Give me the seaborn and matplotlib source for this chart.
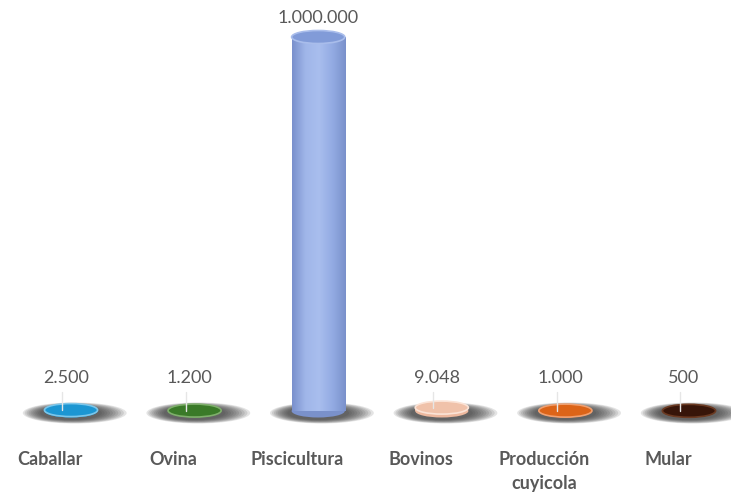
import numpy as np
import pandas as pd
import matplotlib
matplotlib.use("Agg")
import matplotlib.pyplot as plt
import seaborn as sns
from matplotlib.patches import Ellipse
from matplotlib.colors import LinearSegmentedColormap

# Data
categories = ["Caballar", "Ovina", "Piscicultura", "Bovinos", "Producción\ncuyicola", "Mular"]
values = [2500, 1200, 1000000, 9048, 1000, 500]
value_labels = ["2.500", "1.200", "1.000.000", "9.048", "1.000", "500"]
bar_colors = ["#1E9BD7", "#3F7F2C", "#8DA6E0", "#EDB89E", "#E0691F", "#3E1A0C"]
cap_colors = ["#1C96D2", "#3A7A28", "#819BD8", "#F0C2AA", "#DC6418", "#371509"]
cap_edges = ["#7CC6EA", "#7FAF6C", "#A9BDEB", "#FBE3D6", "#F0A070", "#6B3A22"]

df = pd.DataFrame({"categoria": categories, "valor": values})

sns.set_style("white")
plt.rcParams["font.family"] = ["Lato", "DejaVu Sans"]

fig = plt.figure(figsize=(7.31, 4.92), dpi=100)
ax = fig.add_axes([0, 52 / 492, 1, 440 / 492])

sns.barplot(data=df, x="categoria", y="valor", hue="categoria", palette=bar_colors,
            width=0.43, saturation=1, legend=False, ax=ax, zorder=3, linewidth=0)

ax.set_xlim(-0.4045, 5.51)
ax.set_ylim(-77540, 1098930)

# pixel -> data helpers
px_y = 1e6 / 374
shift = 0.17
bars = list(ax.patches)
for p in bars:
    p.set_x(p.get_x() + shift)

# cylinder shading on the bars
cmap = LinearSegmentedColormap.from_list("cyl", ["#7990CC", "#A0B6E9", "#A9BEEE", "#93ABE3", "#7A91CB"])
grad = np.linspace(0, 1, 256).reshape(1, -1)
for p, v in zip(bars, values):
    if v < 50000:
        continue
    x0, w = p.get_x(), p.get_width()
    im = ax.imshow(grad, cmap=cmap, aspect="auto", extent=(x0, x0 + w, 0, v), zorder=3.5)
    im.set_clip_path(p)

eh = 13 * px_y
ew = 0.43
for i, (v, lab) in enumerate(zip(values, value_labels)):
    cx = i + shift
    # soft shadow
    for k in range(10):
        f = k / 9
        ax.add_patch(Ellipse((cx + 0.03 - 0.03 * f, -2 * px_y), 0.84 - 0.34 * f, (21 - 7 * f) * px_y,
                             color="#333333", alpha=0.13, lw=0, zorder=1))
    # bottom rim
    ax.add_patch(Ellipse((cx, 0), ew, eh, color="#7A91CB" if v > 50000 else bar_colors[i],
                         lw=0, zorder=2.5))
    # top cap
    ax.add_patch(Ellipse((cx, v), ew, eh, facecolor=cap_colors[i], edgecolor=cap_edges[i],
                         lw=1.2, zorder=4))
    if v < 50000:
        ax.plot([i + 0.1, i + 0.1], [v, 50000], color="#E6E6E6", lw=1, zorder=5)
        ax.text(i + 0.13, 88000, lab, ha="center", va="center", fontsize=13, color="#595959")
    else:
        ax.text(cx, v + 19 * px_y, lab, ha="center", va="center", fontsize=13, color="#595959")

ax.set_xticks(range(len(categories)))
ax.set_xticklabels(categories, fontsize=13, fontweight="bold", color="#595959")
for t in ax.get_xticklabels():
    t.set_linespacing(1.5)
ax.tick_params(axis="x", length=0, pad=8)
ax.set_yticks([])
ax.set_xlabel("")
ax.set_ylabel("")
sns.despine(ax=ax, left=True, bottom=True)

fig.savefig("out.png", dpi=100)
